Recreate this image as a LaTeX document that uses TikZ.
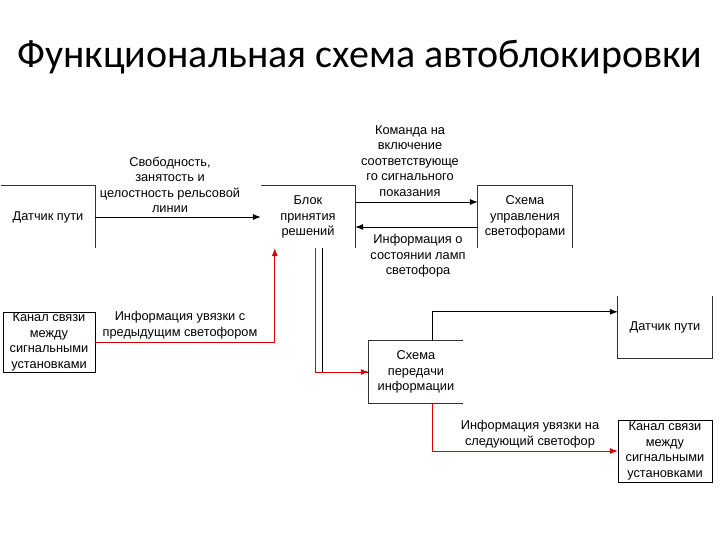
\documentclass[tikz,border=0pt]{standalone}
\usepackage{fontspec}
\setmainfont{Liberation Sans}
\newfontfamily\titlefont{Carlito}
\usetikzlibrary{arrows.meta,positioning,calc}
\tikzstyle{block} = [rectangle, align=center, minimum width=94pt, minimum height=62pt,
    inner sep=1pt, font=\fontsize{12.8}{15.5}\selectfont]
\tikzstyle{lbl} = [align=center, inner sep=0pt, font=\fontsize{12.8}{15.5}\selectfont]
\tikzstyle{edge} = [line width=0.8pt, black!80]
\tikzstyle{connector} = [-{Latex[length=8pt,width=6pt]}, line width=0.8pt]
\tikzstyle{redconn} = [-{Latex[length=8pt,width=6pt]}, line width=0.8pt, red!85!black]
\begin{document}
\begin{tikzpicture}[x=1pt,y=-1pt]
	\useasboundingbox (0,0) rectangle (720,540);
	\node[font=\titlefont\fontsize{40}{40}\selectfont, anchor=west, inner sep=0pt] (title) at (17,57) {Функциональная схема автоблокировки};
	
	\node[block] (sensorA) at (48,217) {Датчик пути};
	\node[block] (decide) at (308,217) {Блок\\принятия\\решений};
	\node[block] (lights) at (525,217) {Схема\\управления\\светофорами};
	\node[block, draw, minimum width=92pt, minimum height=60pt] (chanA) at (49,342) {Канал связи\\между\\сигнальными\\установками};
	\node[block] (transfer) at (416,372) {Схема\\передачи\\информации};
	\node[block] (sensorB) at (665,327) {Датчик пути};
	\node[block, draw, minimum width=94pt, minimum height=62pt] (chanB) at (665,451) {Канал связи\\между\\сигнальными\\установками};
	
	% visible box edges
	\draw[edge] (sensorA.north west) -- (sensorA.north east) -- (sensorA.south east);
	\draw[edge] (decide.north west) -- (decide.north east) -- (decide.south east);
	\draw[edge] (lights.south west) -- (lights.north west) -- (lights.north east) -- (lights.south east);
	\draw[edge] (transfer.north east) -- (transfer.north west) -- (transfer.south west) -- (transfer.south east);
	\draw[edge] (sensorB.north west) -- (sensorB.south west) -- (sensorB.south east) -- (sensorB.north east);
	
	% connectors
	\draw[connector] (sensorA.east) -- (decide.west);
	\draw[connector] ($(decide.east)+(0,-15)$) -- ($(lights.west)+(0,-15)$);
	\draw[connector] ($(lights.west)+(0,10)$) -- ($(decide.east)+(0,10)$);
	\draw[redconn] (chanA.east) -| ($(decide.south west)+(14,0)$);
	\draw[line width=0.8pt] ($(decide.south)+(14,0)$) |- (transfer.west);
	\draw[redconn] ($(decide.south)+(7,0)$) |- (transfer.west);
	\draw[connector] ($(transfer.north)+(16,0)$) |- ($(sensorB.north west)+(0,16)$);
	\draw[redconn] ($(transfer.south)+(16,0)$) |- (chanB.west);
	
	% labels
	\node[lbl] (lblfree) at (170,185) {Свободность,\\занятость и\\целостность рельсовой\\линии};
	\node[lbl] (lblcmd) at (410,161) {Команда на\\включение\\соответствующе\\го сигнального\\показания};
	\node[lbl] (lbllamp) at (418,256) {Информация о\\состоянии ламп\\светофора};
	\node[lbl] (lblprev) at (180,325) {Информация увязки с\\предыдущим светофором};
	\node[lbl] (lblnext) at (530,434) {Информация увязки на\\следующий светофор};
\end{tikzpicture}
\end{document}
